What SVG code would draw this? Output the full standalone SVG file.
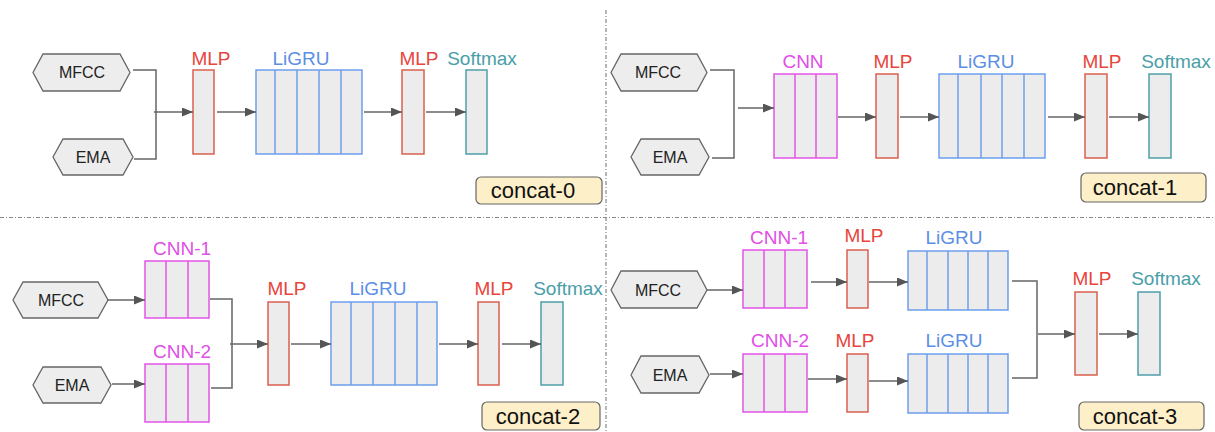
<svg xmlns="http://www.w3.org/2000/svg" width="1215" height="432" viewBox="0 0 1215 432">
<style>
text{font-family:"Liberation Sans",Arial,sans-serif;text-anchor:middle}
.hex{fill:#ededed;stroke:#666;stroke-width:1.3}
.ht{font-size:16px;fill:#222}
.cell{fill:#ececec;stroke-width:1.5}
.mlp{stroke:#d9604f}
.gru{stroke:#6d9eeb}
.cnn{stroke:#e254e6}
.sm{stroke:#4f9fa8}
.div{stroke-width:1.5}
.lb{font-size:19px}
.lmlp{fill:#e8453c}
.lgru{fill:#5b8ee6}
.lcnn{fill:#e04fe6}
.lsm{fill:#4a9ea8}
.tag{fill:#fdefc8;stroke:#666;stroke-width:1.2}
.tt{font-size:22px;fill:#111}
.conn{fill:none;stroke:#666;stroke-width:1.5}
.arr{fill:none;stroke:#666;stroke-width:1.5;marker-end:url(#ah)}
.sep{stroke:#888;stroke-width:1.2;stroke-dasharray:4 2 1 2}
</style>
<defs>
<marker id="ah" markerUnits="userSpaceOnUse" markerWidth="12" markerHeight="10" refX="11" refY="4.5" orient="auto">
<path d="M0,0 L11,4.5 L0,9 z" fill="#555"/>
</marker>
</defs>
<rect width="1215" height="432" fill="#fff"/>
<g id="separators">
<line class="sep" x1="606" y1="10" x2="606" y2="432"/>
<line class="sep" x1="0" y1="217.5" x2="1215" y2="217.5"/>
</g>

<!-- Panel 0 -->
<g id="p0-mfcc"><polygon class="hex" points="33,72.5 43,54 120,54 130,72.5 120,91 43,91"/><text class="ht" x="82" y="78">MFCC</text></g>
<g id="p0-ema"><polygon class="hex" points="53,157 63,139 123,139 133,157 123,175 63,175"/><text class="ht" x="93" y="162.5">EMA</text></g>
<g id="p0-mlp1"><rect class="cell mlp" x="193" y="70" width="21" height="84"/><text class="lb lmlp" x="211" y="65">MLP</text></g>
<g id="p0-ligru"><rect class="cell gru" x="256" y="70" width="106" height="84"/>
<path class="div gru" d="M275,70V154M297,70V154M319,70V154M341,70V154"/><text class="lb lgru" x="301" y="65">LiGRU</text></g>
<g id="p0-mlp2"><rect class="cell mlp" x="402" y="70" width="22" height="84"/><text class="lb lmlp" x="419" y="65">MLP</text></g>
<g id="p0-softmax"><rect class="cell sm" x="466" y="70" width="21" height="84"/><text class="lb lsm" x="482" y="65">Softmax</text></g>
<g id="p0-tag"><rect class="tag" x="476" y="177" width="126" height="27" rx="5"/><text class="tt" x="533" y="198">concat-0</text></g>

<!-- Panel 1 -->
<g id="p1-mfcc"><polygon class="hex" points="611,72.5 621,54 697,54 707,72.5 697,91 621,91"/><text class="ht" x="658" y="78">MFCC</text></g>
<g id="p1-ema"><polygon class="hex" points="631,157 641,139 699,139 709,157 699,175 641,175"/><text class="ht" x="670" y="162.5">EMA</text></g>
<g id="p1-cnn"><rect class="cell cnn" x="774" y="74" width="63" height="84"/>
<path class="div cnn" d="M795,74V158M816,74V158"/><text class="lb lcnn" x="803" y="68">CNN</text></g>
<g id="p1-mlp1"><rect class="cell mlp" x="876" y="74" width="22" height="84"/><text class="lb lmlp" x="893" y="68">MLP</text></g>
<g id="p1-ligru"><rect class="cell gru" x="939" y="74" width="106" height="84"/>
<path class="div gru" d="M958,74V158M981,74V158M1002,74V158M1024,74V158"/><text class="lb lgru" x="986" y="68">LiGRU</text></g>
<g id="p1-mlp2"><rect class="cell mlp" x="1085" y="74" width="22" height="84"/><text class="lb lmlp" x="1102" y="68">MLP</text></g>
<g id="p1-softmax"><rect class="cell sm" x="1149" y="74" width="22" height="84"/><text class="lb lsm" x="1176" y="68">Softmax</text></g>
<g id="p1-tag"><rect class="tag" x="1081" y="173" width="125" height="29" rx="5"/><text class="tt" x="1135" y="195">concat-1</text></g>

<!-- Panel 2 -->
<g id="p2-mfcc"><polygon class="hex" points="13,300 23,282 98,282 108,300 98,318 23,318"/><text class="ht" x="61" y="305.5">MFCC</text></g>
<g id="p2-ema"><polygon class="hex" points="33,385 43,367 101,367 111,385 101,403 43,403"/><text class="ht" x="72" y="390.5">EMA</text></g>
<g id="p2-cnn1"><rect class="cell cnn" x="145" y="261" width="64" height="57"/>
<path class="div cnn" d="M166,261V318M188,261V318"/><text class="lb lcnn" x="182" y="255">CNN-1</text></g>
<g id="p2-cnn2"><rect class="cell cnn" x="145" y="364" width="64" height="58"/>
<path class="div cnn" d="M166,364V422M188,364V422"/><text class="lb lcnn" x="182" y="358">CNN-2</text></g>
<g id="p2-mlp1"><rect class="cell mlp" x="268" y="302" width="21" height="83"/><text class="lb lmlp" x="287" y="295">MLP</text></g>
<g id="p2-ligru"><rect class="cell gru" x="331" y="302" width="106" height="83"/>
<path class="div gru" d="M351,302V385M373,302V385M395,302V385M417,302V385"/><text class="lb lgru" x="378" y="295">LiGRU</text></g>
<g id="p2-mlp2"><rect class="cell mlp" x="478" y="302" width="21" height="83"/><text class="lb lmlp" x="494" y="295">MLP</text></g>
<g id="p2-softmax"><rect class="cell sm" x="541" y="302" width="22" height="83"/><text class="lb lsm" x="568" y="295">Softmax</text></g>
<g id="p2-tag"><rect class="tag" x="482" y="402" width="118" height="28" rx="5"/><text class="tt" x="538" y="424">concat-2</text></g>

<!-- Panel 3 -->
<g id="p3-mfcc"><polygon class="hex" points="611,290 621,271 697,271 707,290 697,308 621,308"/><text class="ht" x="658" y="295.5">MFCC</text></g>
<g id="p3-ema"><polygon class="hex" points="631,375 641,356 699,356 709,375 699,393 641,393"/><text class="ht" x="670" y="380.5">EMA</text></g>
<g id="p3-cnn1"><rect class="cell cnn" x="743" y="250" width="64" height="58"/>
<path class="div cnn" d="M764,250V308M785,250V308"/><text class="lb lcnn" x="779" y="244">CNN-1</text></g>
<g id="p3-cnn2"><rect class="cell cnn" x="743" y="354" width="64" height="58"/>
<path class="div cnn" d="M764,354V412M785,354V412"/><text class="lb lcnn" x="780" y="347">CNN-2</text></g>
<g id="p3-mlp-top"><rect class="cell mlp" x="847" y="250" width="21" height="58"/><text class="lb lmlp" x="864" y="242">MLP</text></g>
<g id="p3-mlp-bot"><rect class="cell mlp" x="847" y="354" width="21" height="58"/><text class="lb lmlp" x="855" y="347">MLP</text></g>
<g id="p3-ligru-top"><rect class="cell gru" x="908" y="251" width="100" height="59"/>
<path class="div gru" d="M927,251V310M948,251V310M968,251V310M988,251V310"/><text class="lb lgru" x="954" y="244">LiGRU</text></g>
<g id="p3-ligru-bot"><rect class="cell gru" x="908" y="354" width="100" height="59"/>
<path class="div gru" d="M927,354V413M948,354V413M968,354V413M988,354V413"/><text class="lb lgru" x="954" y="347">LiGRU</text></g>
<g id="p3-mlp"><rect class="cell mlp" x="1075" y="292" width="22" height="83"/><text class="lb lmlp" x="1092" y="285">MLP</text></g>
<g id="p3-softmax"><rect class="cell sm" x="1138" y="292" width="22" height="83"/><text class="lb lsm" x="1166" y="285">Softmax</text></g>
<g id="p3-tag"><rect class="tag" x="1079" y="402" width="125" height="28" rx="5"/><text class="tt" x="1135" y="424">concat-3</text></g>

<g id="connectors">
<path class="conn" d="M133,70H156V159H134"/>
<line class="arr" x1="154" y1="112" x2="193" y2="112"/>
<line class="arr" x1="217" y1="112" x2="256" y2="112"/>
<line class="arr" x1="364" y1="112" x2="402" y2="112"/>
<line class="arr" x1="426" y1="112" x2="466" y2="112"/>
<path class="conn" d="M710,70H734V158H712"/>
<line class="arr" x1="738" y1="108" x2="774" y2="108"/>
<line class="arr" x1="838" y1="117" x2="876" y2="117"/>
<line class="arr" x1="900" y1="117" x2="939" y2="117"/>
<line class="arr" x1="1048" y1="117" x2="1085" y2="117"/>
<line class="arr" x1="1109" y1="117" x2="1149" y2="117"/>
<line class="arr" x1="107" y1="300" x2="145" y2="300"/>
<line class="arr" x1="112" y1="384" x2="145" y2="384"/>
<path class="conn" d="M210,299H232V388H211"/>
<line class="arr" x1="230" y1="344" x2="268" y2="344"/>
<line class="arr" x1="291" y1="344" x2="331" y2="344"/>
<line class="arr" x1="439" y1="344" x2="478" y2="344"/>
<line class="arr" x1="502" y1="344" x2="541" y2="344"/>
<line class="arr" x1="707" y1="290" x2="743" y2="290"/>
<line class="arr" x1="710" y1="374" x2="743" y2="374"/>
<line class="arr" x1="811" y1="282" x2="847" y2="282"/>
<line class="arr" x1="808" y1="379" x2="847" y2="379"/>
<line class="arr" x1="869" y1="282" x2="908" y2="282"/>
<line class="arr" x1="869" y1="381" x2="908" y2="381"/>
<path class="conn" d="M1012,281H1037V378H1012"/>
<line class="arr" x1="1038" y1="334" x2="1075" y2="334"/>
<line class="arr" x1="1099" y1="334" x2="1138" y2="334"/>
</g>
</svg>
